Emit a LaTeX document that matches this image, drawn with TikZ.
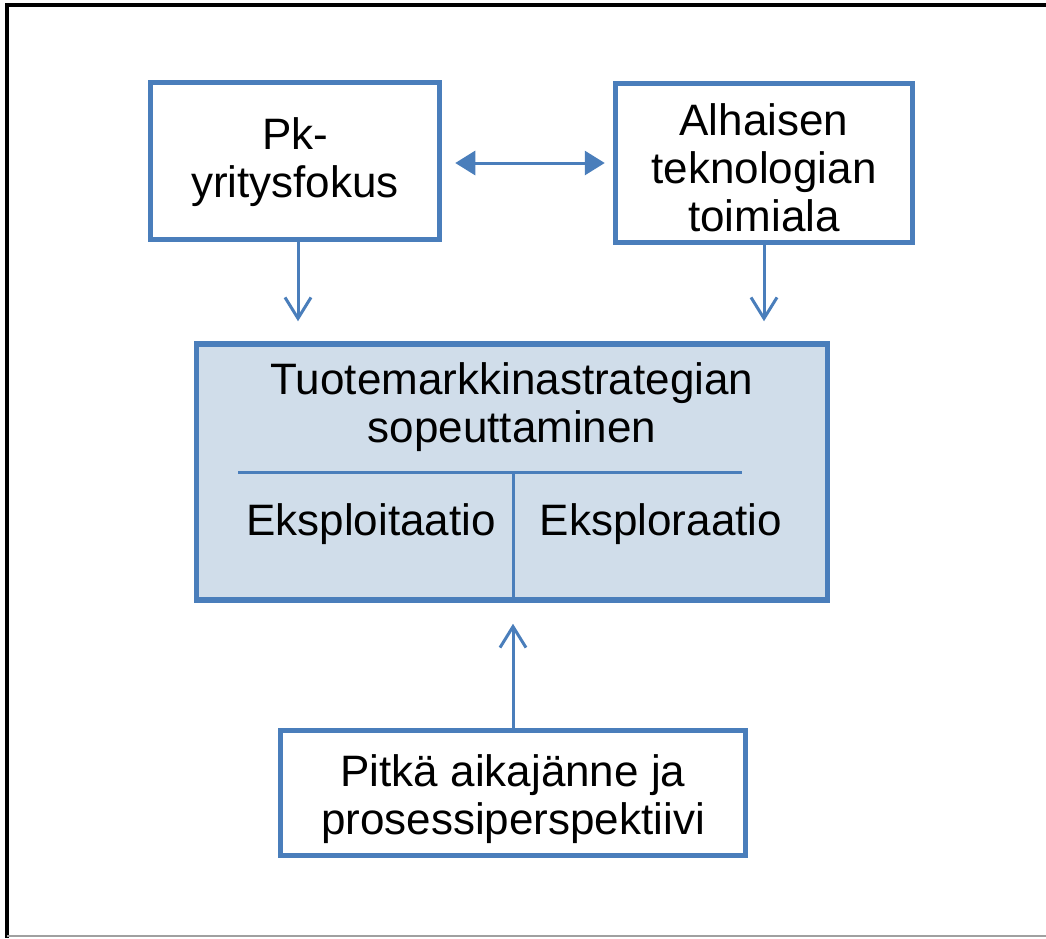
\documentclass[tikz,border=0pt]{standalone}
\usepackage{fontspec}
\setmainfont{Liberation Sans}
\usetikzlibrary{arrows.meta}
\definecolor{boxblue}{HTML}{4A7EBB}
\definecolor{boxfill}{HTML}{D0DDEA}
\definecolor{framegray}{HTML}{A0A0A0}
\tikzset{
  lbl/.style={font=\fontsize{44}{48}\selectfont, align=center, inner sep=0pt},
  plainbox/.style={draw=boxblue, line width=5.5pt, fill=white, rectangle, inner sep=0pt},
  mainbox/.style={draw=boxblue, line width=5.5pt, fill=boxfill, rectangle, inner sep=0pt},
  divider/.style={draw=boxblue, line width=3pt},
  dbl/.style={draw=boxblue, line width=3pt, {Triangle[length=20pt,width=24pt]}-{Triangle[length=20pt,width=24pt]}},
  feed/.style={draw=boxblue, line width=3pt, -{Straight Barb[length=21pt,width=26pt,line width=3pt]}},
}
\begin{document}
\begin{tikzpicture}[x=1pt,y=-1pt]
\useasboundingbox (0,0) rectangle (1046,938);
% page frame
\draw[black, line width=4pt] (7,938) -- (7,5) -- (1046,5);
\draw[framegray, line width=2pt] (7,936) -- (1046,936);

% boxes
\node[plainbox, minimum width=289pt, minimum height=157pt] (pk) at (295,161) {};
\node[lbl] (pktext) at (295,162) {Pk-\\yritysfokus};
\node[plainbox, minimum width=297pt, minimum height=159pt] (alh) at (764,163) {};
\node[lbl] (alhtext) at (764,168) {Alhaisen\\teknologian\\toimiala};
\node[mainbox, minimum width=631pt, minimum height=256pt] (main) at (512,472) {};
\node[lbl] (title) at (512,407) {Tuotemarkkinastrategian\\sopeuttaminen};
\node[lbl] (expl) at (371,524) {Eksploitaatio};
\node[lbl] (explr) at (661,524) {Eksploraatio};
\node[plainbox, minimum width=465pt, minimum height=125pt] (bot) at (513,793) {};
\node[lbl] (bottext) at (513,799) {Pitkä aikajänne ja\\prosessiperspektiivi};

% dividers inside the strategy box
\coordinate (dl) at (238,472);
\coordinate (dr) at (742,472);
\coordinate (dm) at (513,472);
\draw[divider] (dl) -- (dr);
\draw[divider] (dm) -- (dm |- main.south);

% connectors
\draw[dbl, shorten <=13pt, shorten >=8pt] (pk.east |- alh.west) -- (alh.west);
\draw[feed, shorten >=20pt] ([xshift=3pt]pk.south) -- ([xshift=3pt]pk.south |- main.north);
\draw[feed, shorten >=20pt] (alh.south) -- (alh.south |- main.north);
\draw[feed, shorten >=21pt] (bot.north) -- (bot.north |- main.south);
\end{tikzpicture}
\end{document}
